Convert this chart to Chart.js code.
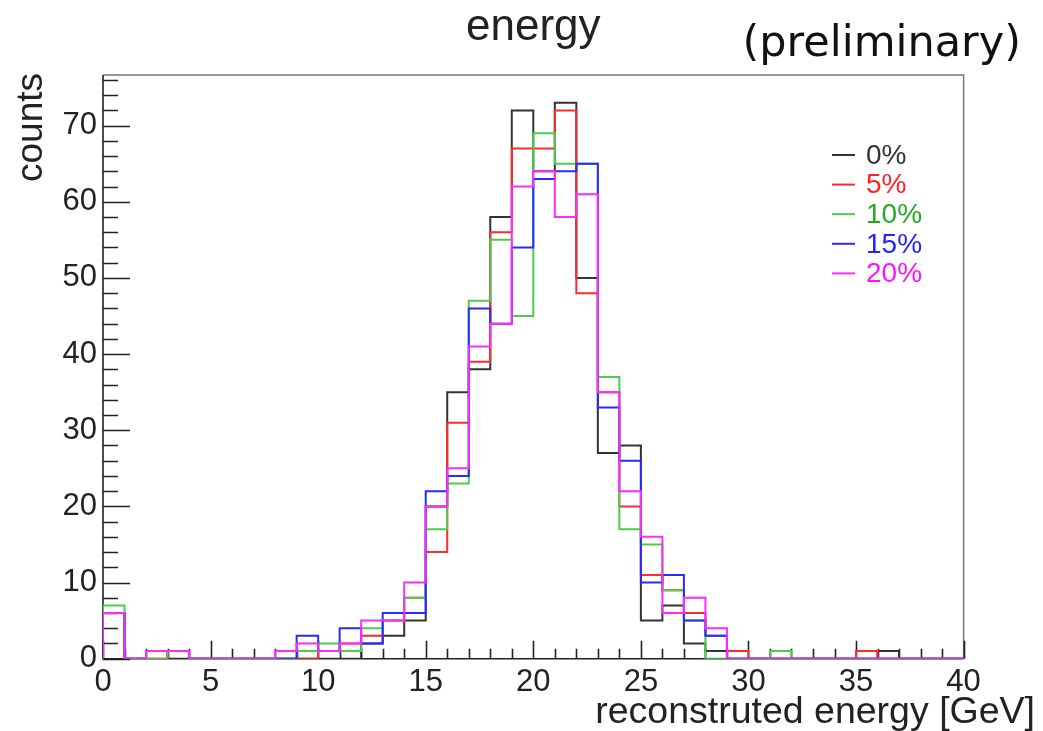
<!DOCTYPE html>
<html>
<head>
<meta charset="utf-8">
<title>energy</title>
<script src="https://cdn.jsdelivr.net/npm/chart.js@4.4.1/dist/chart.umd.min.js"></script>
<style>
  html, body { margin: 0; padding: 0; background: #fff; }
  #wrap { position: relative; width: 1043px; height: 731px; }
</style>
</head>
<body>
<div id="wrap"><canvas id="energyChart"></canvas></div>
<script>
// 40 bins of 1 GeV, from 0 to 40
const binLow = 0;
const binHigh = 40;

const seriesLabels = ["0%", "5%", "10%", "15%", "20%"];

// counts per bin
const counts0 = [6, 0, 1, 0, 0, 0, 0, 0, 0, 0, 0, 0, 2, 3, 5, 20, 35, 38, 58, 72,
                 64, 73, 50, 27, 28, 5, 7, 2, 1, 0, 0, 0, 0, 0, 0, 0, 1, 0, 0, 0];
const counts5 = [6, 0, 0, 1, 0, 0, 0, 0, 0, 0, 1, 2, 3, 5, 8, 14, 31, 39, 56, 67,
                 67, 72, 48, 35, 20, 11, 9, 6, 3, 1, 0, 0, 0, 0, 0, 1, 0, 0, 0, 0];
const counts10 = [7, 0, 0, 1, 0, 0, 0, 0, 0, 1, 2, 1, 4, 5, 8, 17, 23, 47, 55, 45,
                  69, 65, 65, 37, 17, 15, 9, 5, 0, 0, 0, 1, 0, 0, 0, 0, 0, 0, 0, 0];
const counts15 = [6, 0, 1, 1, 0, 0, 0, 0, 0, 3, 1, 4, 2, 6, 6, 22, 24, 46, 44, 54,
                  63, 64, 65, 33, 26, 10, 11, 5, 3, 0, 0, 0, 0, 0, 0, 0, 0, 0, 0, 0];
const counts20 = [6, 0, 1, 1, 0, 0, 0, 0, 1, 2, 1, 2, 5, 5, 10, 20, 25, 41, 44, 62,
                  64, 58, 61, 35, 22, 16, 6, 8, 4, 0, 0, 0, 0, 0, 0, 0, 0, 0, 0, 0];

const xTicks = [0, 5, 10, 15, 20, 25, 30, 35, 40];
const yTicks = [0, 10, 20, 30, 40, 50, 60, 70];
const yMax = 76.65;

const allCounts = [counts0, counts5, counts10, counts15, counts20];
const lineColors = ["#333333", "#ff2a2a", "#4ccc4c", "#2a2aff", "#ff2aff"];
const textColors = ["#333333", "#ff2222", "#22aa22", "#2222ff", "#ff11ff"];

const fontFamily = '"Liberation Sans", Arial, Helvetica, sans-serif';

// outline of a histogram: bin left edges, closed down to zero at both ends
function histPoints(values) {
	const pts = [{ x: binLow, y: 0 }];
	values.forEach((v, i) => pts.push({ x: binLow + i, y: v }));
	pts.push({ x: binHigh, y: values[values.length - 1] });
	pts.push({ x: binHigh, y: 0 });
	return pts;
}

// frame, inward ticks, axis titles and legend
const rootStyle = {
	id: "rootStyle",
	beforeDatasetsDraw(chart) {
		const ctx = chart.ctx;
		const { left, right, top, bottom } = chart.chartArea;
		const xs = chart.scales.x;
		const ys = chart.scales.y;
		ctx.save();
		ctx.lineCap = "butt";

		// grey frame on top and right
		ctx.strokeStyle = "#777";
		ctx.lineWidth = 1.5;
		ctx.beginPath();
		ctx.moveTo(left, top);
		ctx.lineTo(right, top);
		ctx.lineTo(right, bottom);
		ctx.stroke();

		// axes
		ctx.strokeStyle = "#222";
		ctx.lineWidth = 1.6;
		ctx.beginPath();
		ctx.moveTo(left, top);
		ctx.lineTo(left, bottom);
		ctx.lineTo(right, bottom);
		ctx.stroke();

		// y ticks: major every 10, minor every 2
		ctx.beginPath();
		for (let v = 0; v <= yMax; v += 2) {
			const py = Math.round(ys.getPixelForValue(v)) + 0.5;
			const len = v % 10 === 0 ? 27 : 15;
			ctx.moveTo(left, py);
			ctx.lineTo(left + len, py);
		}
		// x ticks: major every 5, minor every 1
		for (let v = binLow; v <= binHigh; v += 1) {
			const px = Math.round(xs.getPixelForValue(v)) + 0.5;
			const len = v % 5 === 0 ? 18 : 10;
			ctx.moveTo(px, bottom);
			ctx.lineTo(px, bottom - len);
		}
		ctx.stroke();
		ctx.restore();
	},
	afterDraw(chart) {
		const ctx = chart.ctx;
		ctx.save();
		ctx.fillStyle = "#111";

		ctx.font = '43px "DejaVu Sans", sans-serif';
		ctx.textAlign = "right";
		ctx.textBaseline = "alphabetic";
		ctx.fillText("(preliminary)", 1021, 56);

		ctx.fillStyle = "#222";
		ctx.font = "37.5px " + fontFamily;
		ctx.fillText("reconstruted energy [GeV]", 1035, 723);

		ctx.save();
		ctx.translate(42, 73);
		ctx.rotate(-Math.PI / 2);
		ctx.textAlign = "right";
		ctx.font = "37px " + fontFamily;
		ctx.fillText("counts", 0, 0);
		ctx.restore();

		// legend
		ctx.font = "28px " + fontFamily;
		ctx.textAlign = "left";
		ctx.textBaseline = "middle";
		seriesLabels.forEach((label, i) => {
			const y = 155 + i * 29.6;
			ctx.strokeStyle = lineColors[i];
			ctx.lineWidth = 2;
			ctx.beginPath();
			ctx.moveTo(832, y);
			ctx.lineTo(855, y);
			ctx.stroke();
			ctx.fillStyle = textColors[i];
			ctx.fillText(label, 866, y + 1);
		});
		ctx.restore();
	}
};

const datasets = seriesLabels.map((label, i) => ({
	label: label,
	data: histPoints(allCounts[i]),
	borderColor: lineColors[i],
	borderWidth: 2,
	pointRadius: 0,
	fill: false,
	stepped: true,
	tension: 0,
	order: seriesLabels.length - i,
}));

const ctx = document.getElementById("energyChart");
const energyChart = new Chart(ctx, {
	type: "line",
	data: { datasets: datasets },
	options: {
		responsive: true,
		maintainAspectRatio: false,
		animation: false,
		events: [],
		layout: { padding: { left: 0, right: 79.4, top: 0, bottom: 0 } },
		plugins: {
			legend: { display: false },
			tooltip: { enabled: false },
			title: {
				display: true,
				text: "energy",
				fullSize: false,
				color: "#222",
				font: { family: fontFamily, size: 44, weight: "normal", lineHeight: 1 },
				padding: { top: 6, bottom: 25 },
			},
		},
		scales: {
			x: {
				type: "linear",
				min: binLow,
				max: binHigh,
				afterBuildTicks: (scale) => {
					scale.ticks = xTicks.map((v) => ({ value: v }));
				},
				afterFit: (scale) => {
					scale.height = 72.3;
				},
				ticks: {
					color: "#222",
					font: { family: fontFamily, size: 31 },
					padding: 5,
					maxRotation: 0,
					autoSkip: false,
				},
				grid: { display: false, drawTicks: false },
				border: { display: false },
			},
			y: {
				type: "linear",
				min: 0,
				max: yMax,
				afterBuildTicks: (scale) => {
					scale.ticks = yTicks.map((v) => ({ value: v }));
				},
				afterFit: (scale) => {
					scale.width = 103;
				},
				ticks: {
					color: "#222",
					font: { family: fontFamily, size: 31 },
					padding: 6,
					autoSkip: false,
				},
				grid: { display: false, drawTicks: false },
				border: { display: false },
			},
		},
	},
	plugins: [rootStyle],
});
</script>
</body>
</html>
